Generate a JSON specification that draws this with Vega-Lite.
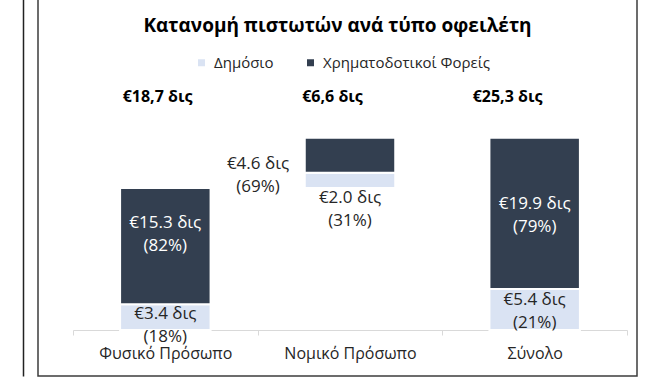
{
  "$schema": "https://vega.github.io/schema/vega-lite/v6.json",
  "width": 599,
  "height": 379,
  "autosize": {"type": "none"},
  "padding": {"left": 38, "top": -3, "right": 23, "bottom": 4},
  "config": {
    "font": "Open Sans",
    "view": {"stroke": "#3c3c3c", "strokeWidth": 1.5},
    "axisX": {
      "offset": -46,
      "domainColor": "#d9d9d9",
      "domainWidth": 1,
      "tickColor": "#d9d9d9",
      "tickSize": 5,
      "tickBand": "extent",
      "labelFont": "Open Sans",
      "labelFontSize": 16,
      "labelColor": "#262626",
      "labelPadding": 10,
      "labelAngle": 0,
      "grid": false
    },
    "axisY": {
      "offset": 15,
      "domainColor": "#222222",
      "domainWidth": 1.5,
      "labels": false,
      "ticks": false,
      "grid": false
    }
  },
  "title": {
    "text": "Κατανομή πιστωτών ανά τύπο οφειλέτη",
    "anchor": "middle",
    "font": "Open Sans",
    "fontSize": 19,
    "fontWeight": "bold",
    "color": "#000000",
    "baseline": "alphabetic",
    "offset": -54
  },
  "datasets": {
    "bars": [
      {"cat": "Φυσικό Πρόσωπο", "type": "Δημόσιο", "start": 0, "end": 3.4, "label": "€3.4 δις\n(18%)"},
      {"cat": "Φυσικό Πρόσωπο", "type": "Χρηματοδοτικοί Φορείς", "start": 3.4, "end": 18.7, "label": "€15.3 δις\n(82%)"},
      {"cat": "Νομικό Πρόσωπο", "type": "Δημόσιο", "start": 18.7, "end": 20.7, "label": "€2.0 δις\n(31%)"},
      {"cat": "Νομικό Πρόσωπο", "type": "Χρηματοδοτικοί Φορείς", "start": 20.7, "end": 25.3, "label": "€4.6 δις\n(69%)"},
      {"cat": "Σύνολο", "type": "Δημόσιο", "start": 0, "end": 5.4, "label": "€5.4 δις\n(21%)"},
      {"cat": "Σύνολο", "type": "Χρηματοδοτικοί Φορείς", "start": 5.4, "end": 25.3, "label": "€19.9 δις\n(79%)"}
    ],
    "totals": [
      {"cat": "Φυσικό Πρόσωπο", "label": "€18,7 δις"},
      {"cat": "Νομικό Πρόσωπο", "label": "€6,6 δις"},
      {"cat": "Σύνολο", "label": "€25,3 δις"}
    ]
  },
  "layer": [
    {
      "data": {"name": "bars"},
      "encoding": {
        "x": {
          "field": "cat",
          "type": "nominal",
          "sort": ["Φυσικό Πρόσωπο", "Νομικό Πρόσωπο", "Σύνολο"],
          "scale": {"range": [35, 589], "paddingInner": 0, "paddingOuter": 0},
          "title": null
        },
        "y": {
          "field": "end",
          "type": "quantitative",
          "scale": {"domain": [-6.053, 43.816], "zero": false, "nice": false},
          "title": null
        }
      },
      "layer": [
        {
          "mark": {"type": "bar", "width": {"band": 0.49}, "stroke": "#ffffff", "strokeWidth": 2},
          "encoding": {
            "y2": {"field": "start"},
            "color": {
              "field": "type",
              "type": "nominal",
              "scale": {"domain": ["Δημόσιο", "Χρηματοδοτικοί Φορείς"], "range": ["#dae3f3", "#333f50"]},
              "legend": {
                "orient": "none",
                "legendX": 156,
                "legendY": 58,
                "direction": "horizontal",
                "title": null,
                "symbolType": "square",
                "symbolSize": 49,
                "symbolStrokeWidth": 0,
                "labelFont": "Open Sans",
                "labelFontSize": 15,
                "labelColor": "#262626",
                "labelOffset": 5,
                "labelLimit": 400,
                "columnPadding": 29,
                "padding": 0
              }
            }
          }
        },
        {
          "transform": [{"filter": "datum.type == 'Δημόσιο' && datum.cat == 'Φυσικό Πρόσωπο'"}],
          "mark": {"type": "text", "font": "Open Sans", "fontSize": 17, "color": "#262626", "baseline": "middle", "lineBreak": "\n", "lineHeight": 23, "dy": 10},
          "encoding": {"text": {"field": "label"}}
        },
        {
          "transform": [{"filter": "datum.type == 'Δημόσιο' && datum.cat == 'Σύνολο'"}],
          "mark": {"type": "text", "font": "Open Sans", "fontSize": 17, "color": "#262626", "baseline": "middle", "lineBreak": "\n", "lineHeight": 23, "dy": 11},
          "encoding": {"text": {"field": "label"}}
        },
        {
          "transform": [{"filter": "datum.type == 'Δημόσιο' && datum.cat == 'Νομικό Πρόσωπο'"}],
          "mark": {"type": "text", "font": "Open Sans", "fontSize": 17, "color": "#262626", "baseline": "middle", "lineBreak": "\n", "lineHeight": 23, "dy": 10},
          "encoding": {"y": {"field": "start", "type": "quantitative", "title": null}, "text": {"field": "label"}}
        },
        {
          "transform": [{"filter": "datum.type == 'Χρηματοδοτικοί Φορείς' && datum.cat == 'Νομικό Πρόσωπο'"}],
          "mark": {"type": "text", "font": "Open Sans", "fontSize": 17, "color": "#262626", "baseline": "middle", "lineBreak": "\n", "lineHeight": 23, "dy": 26, "dx": -92},
          "encoding": {"text": {"field": "label"}}
        },
        {
          "transform": [{"filter": "datum.type == 'Χρηματοδοτικοί Φορείς' && datum.cat == 'Φυσικό Πρόσωπο'"}],
          "mark": {"type": "text", "font": "Open Sans", "fontSize": 17, "color": "#ffffff", "baseline": "middle", "lineBreak": "\n", "lineHeight": 23, "dy": 35},
          "encoding": {"text": {"field": "label"}}
        },
        {
          "transform": [{"filter": "datum.type == 'Χρηματοδοτικοί Φορείς' && datum.cat == 'Σύνολο'"}],
          "mark": {"type": "text", "font": "Open Sans", "fontSize": 17, "color": "#ffffff", "baseline": "middle", "lineBreak": "\n", "lineHeight": 23, "dy": 66},
          "encoding": {"text": {"field": "label"}}
        }
      ]
    },
    {
      "data": {"name": "totals"},
      "mark": {"type": "text", "font": "Open Sans", "fontSize": 16, "fontWeight": "bold", "color": "#000000", "baseline": "middle"},
      "encoding": {
        "x": {
          "field": "cat",
          "type": "nominal",
          "sort": ["Φυσικό Πρόσωπο", "Νομικό Πρόσωπο", "Σύνολο"],
          "scale": {"range": [32, 557], "paddingInner": 0, "paddingOuter": 0},
          "axis": null
        },
        "y": {"datum": 30.66, "type": "quantitative"},
        "text": {"field": "label"}
      }
    }
  ],
  "resolve": {"scale": {"x": "independent"}}
}
